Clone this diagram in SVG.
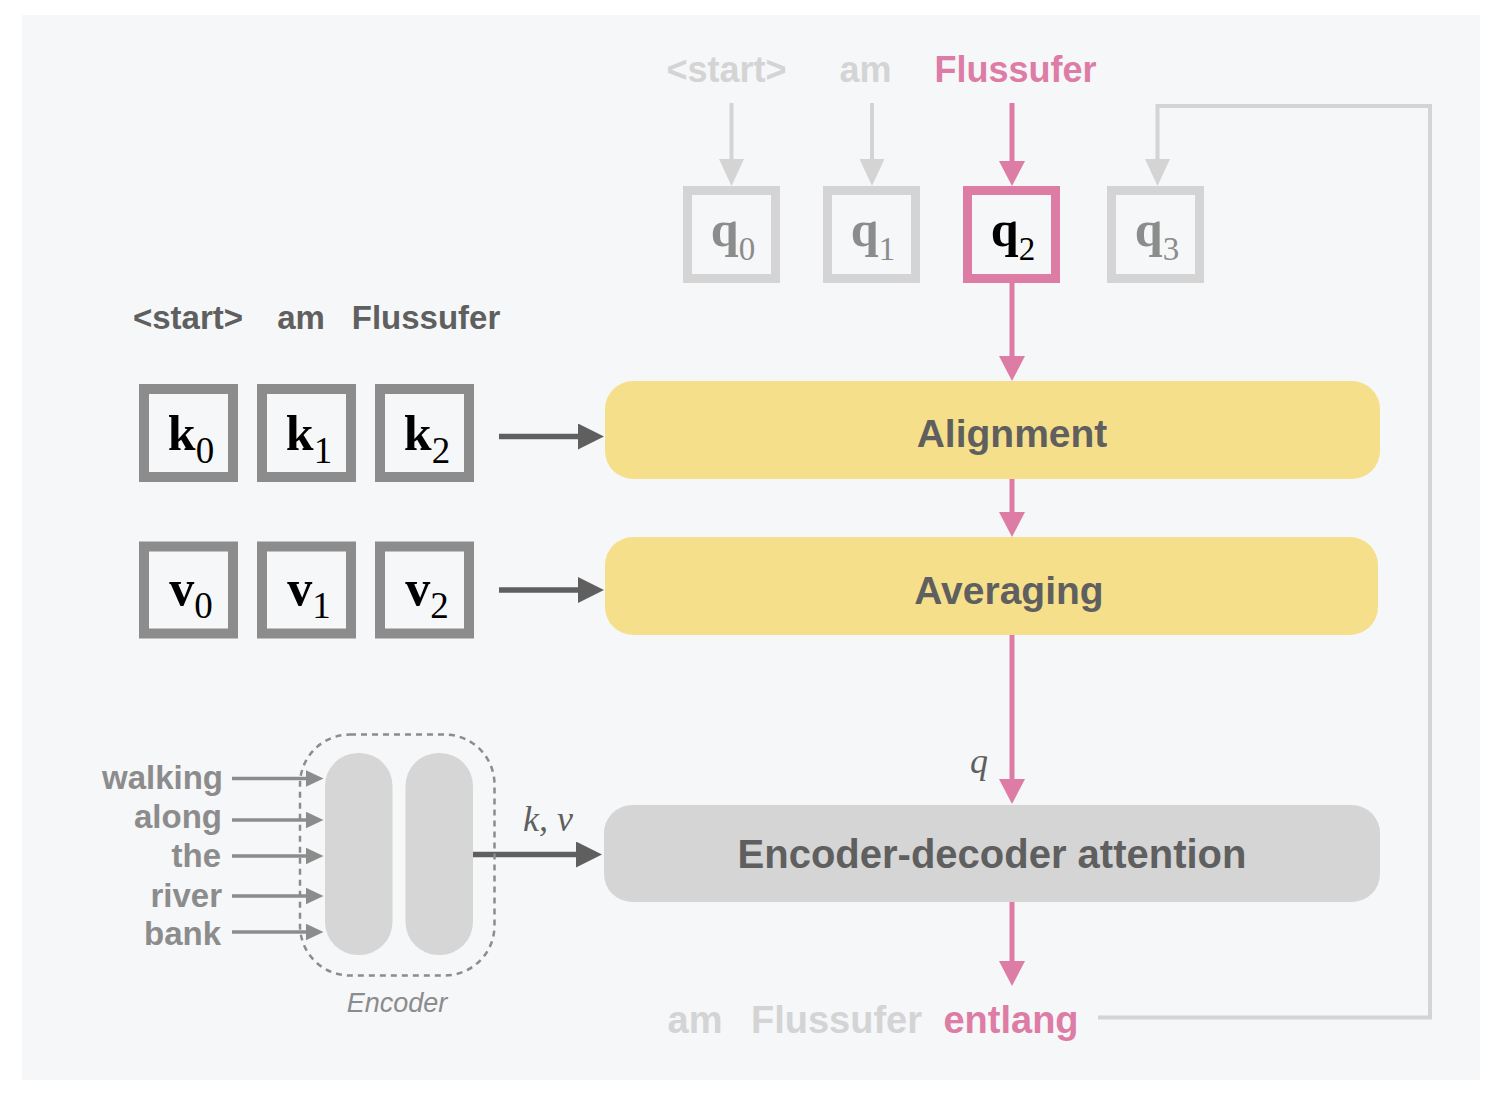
<svg xmlns="http://www.w3.org/2000/svg" width="1500" height="1100" viewBox="0 0 1500 1100">
<defs>
<style>
.sans{font-family:"Liberation Sans",Arial,sans-serif;font-weight:bold}
.serif{font-family:"Liberation Serif","Times New Roman",serif}
.big{font-size:39px;fill:#5f5f5f}
.lg{fill:#d4d4d4}
.pk{fill:#dd7ca5}
.word{font-size:33px;fill:#8c8c8c}
.sym{font-weight:bold;font-size:50px}
.sub{font-weight:normal}
.boxG{fill:none;stroke:#8c8c8c;stroke-width:10}
.boxL{fill:none;stroke:#d4d4d4;stroke-width:9}
.boxP{fill:none;stroke:#dd7ca5;stroke-width:9}
.pline{fill:none;stroke:#dd7ca5;stroke-width:5}
.lline{fill:none;stroke:#d4d4d4;stroke-width:4}
.dline{fill:none;stroke:#5f5f5f;stroke-width:5.5}
.sline{fill:none;stroke:#8c8c8c;stroke-width:3.5}
</style>
<marker id="hP" markerUnits="userSpaceOnUse" markerWidth="26" markerHeight="26" refX="2" refY="13" orient="auto"><path d="M0,0 L25,13 L0,26 Z" fill="#dd7ca5"/></marker>
<marker id="hL" markerUnits="userSpaceOnUse" markerWidth="28" markerHeight="26" refX="2" refY="12.5" orient="auto"><path d="M0,0 L27,12.5 L0,25 Z" fill="#d4d4d4"/></marker>
<marker id="hD" markerUnits="userSpaceOnUse" markerWidth="27" markerHeight="26" refX="2" refY="13" orient="auto"><path d="M0,0 L26,13 L0,26 Z" fill="#5f5f5f"/></marker>
<marker id="hS" markerUnits="userSpaceOnUse" markerWidth="19" markerHeight="18" refX="2" refY="8.5" orient="auto"><path d="M0,0 L18,8.5 L0,17 Z" fill="#8c8c8c"/></marker>
</defs>
<rect x="0" y="0" width="1500" height="1100" fill="#ffffff"/>
<rect x="22" y="15" width="1458" height="1065" fill="#f6f7f9"/>

<g id="connectors">
<line class="lline" x1="731.5" y1="103" x2="731.5" y2="161" marker-end="url(#hL)"/>
<line class="lline" x1="872" y1="103" x2="872" y2="161" marker-end="url(#hL)"/>
<line class="pline" x1="1012" y1="103" x2="1012" y2="163" marker-end="url(#hP)"/>
<path class="lline" d="M1098,1017.5 H1430 V106 H1157.5 V161" marker-end="url(#hL)"/>
<line class="pline" x1="1012" y1="283" x2="1012" y2="358" marker-end="url(#hP)"/>
<line class="pline" x1="1012" y1="479" x2="1012" y2="514" marker-end="url(#hP)"/>
<line class="pline" x1="1012" y1="635" x2="1012" y2="781" marker-end="url(#hP)"/>
<line class="pline" x1="1012" y1="902" x2="1012" y2="963" marker-end="url(#hP)"/>
<line class="dline" x1="499" y1="436.5" x2="580" y2="436.5" marker-end="url(#hD)"/>
<line class="dline" x1="499" y1="590" x2="580" y2="590" marker-end="url(#hD)"/>
<line class="dline" x1="473" y1="854.5" x2="578" y2="854.5" marker-end="url(#hD)"/>
<line class="sline" x1="232" y1="778.5" x2="307.5" y2="778.5" marker-end="url(#hS)"/>
<line class="sline" x1="232" y1="820" x2="307.5" y2="820" marker-end="url(#hS)"/>
<line class="sline" x1="232" y1="856" x2="307.5" y2="856" marker-end="url(#hS)"/>
<line class="sline" x1="232" y1="896" x2="307.5" y2="896" marker-end="url(#hS)"/>
<line class="sline" x1="232" y1="932" x2="307.5" y2="932" marker-end="url(#hS)"/>
<text class="serif" x="548" y="831" font-size="36" font-style="italic" fill="#5f5f5f" text-anchor="middle">k, v</text>
<text class="serif" x="979" y="773" font-size="36" font-style="italic" fill="#5f5f5f" text-anchor="middle">q</text>
</g>

<g id="top-words">
<text class="sans lg" x="726.5" y="82" font-size="36" text-anchor="middle">&lt;start&gt;</text>
<text class="sans lg" x="865.5" y="82" font-size="36" text-anchor="middle">am</text>
<text class="sans pk" x="1015.5" y="82" font-size="36" text-anchor="middle">Flussufer</text>
</g>

<g id="q0"><rect class="boxL" x="687.5" y="190.5" width="88" height="88"/><text class="serif" x="733" y="246" text-anchor="middle" fill="#8c8c8c"><tspan class="sym">q</tspan><tspan class="sub" font-size="33" dy="14">0</tspan></text></g>
<g id="q1"><rect class="boxL" x="827.5" y="190.5" width="88" height="88"/><text class="serif" x="873" y="246" text-anchor="middle" fill="#8c8c8c"><tspan class="sym">q</tspan><tspan class="sub" font-size="33" dy="14">1</tspan></text></g>
<g id="q2"><rect class="boxP" x="967.5" y="190.5" width="88" height="88"/><text class="serif" x="1013" y="246" text-anchor="middle" fill="#000000"><tspan class="sym">q</tspan><tspan class="sub" font-size="33" dy="14">2</tspan></text></g>
<g id="q3"><rect class="boxL" x="1111.5" y="190.5" width="88" height="88"/><text class="serif" x="1157" y="246" text-anchor="middle" fill="#8c8c8c"><tspan class="sym">q</tspan><tspan class="sub" font-size="33" dy="14">3</tspan></text></g>

<g id="left-words">
<text class="sans" x="188" y="329" font-size="33" fill="#5f5f5f" text-anchor="middle">&lt;start&gt;</text>
<text class="sans" x="301" y="329" font-size="33" fill="#5f5f5f" text-anchor="middle">am</text>
<text class="sans" x="426" y="329" font-size="33" fill="#5f5f5f" text-anchor="middle">Flussufer</text>
</g>

<g id="k0"><rect class="boxG" x="144" y="389" width="89" height="88"/><text class="serif" x="191" y="450" text-anchor="middle" fill="#000"><tspan class="sym">k</tspan><tspan class="sub" font-size="37" dy="13">0</tspan></text></g>
<g id="k1"><rect class="boxG" x="262" y="389" width="89" height="88"/><text class="serif" x="309" y="450" text-anchor="middle" fill="#000"><tspan class="sym">k</tspan><tspan class="sub" font-size="37" dy="13">1</tspan></text></g>
<g id="k2"><rect class="boxG" x="380" y="389" width="89" height="88"/><text class="serif" x="427" y="450" text-anchor="middle" fill="#000"><tspan class="sym">k</tspan><tspan class="sub" font-size="37" dy="13">2</tspan></text></g>
<g id="v0"><rect class="boxG" x="144" y="546.5" width="89" height="87"/><text class="serif" x="191" y="605" text-anchor="middle" fill="#000"><tspan class="sym">v</tspan><tspan class="sub" font-size="37" dy="13">0</tspan></text></g>
<g id="v1"><rect class="boxG" x="262" y="546.5" width="89" height="87"/><text class="serif" x="309" y="605" text-anchor="middle" fill="#000"><tspan class="sym">v</tspan><tspan class="sub" font-size="37" dy="13">1</tspan></text></g>
<g id="v2"><rect class="boxG" x="380" y="546.5" width="89" height="87"/><text class="serif" x="427" y="605" text-anchor="middle" fill="#000"><tspan class="sym">v</tspan><tspan class="sub" font-size="37" dy="13">2</tspan></text></g>

<g id="alignment"><rect x="605" y="381" width="775" height="98" rx="28" fill="#f6df8a"/><text class="sans big" x="1012" y="447" text-anchor="middle">Alignment</text></g>
<g id="averaging"><rect x="605" y="537" width="773" height="98" rx="28" fill="#f6df8a"/><text class="sans big" x="1009" y="604" text-anchor="middle">Averaging</text></g>
<g id="encdec"><rect x="604" y="805" width="776" height="97" rx="28" fill="#d5d5d5"/><text class="sans" x="992" y="868" font-size="40" fill="#5f5f5f" text-anchor="middle">Encoder-decoder attention</text></g>

<g id="input-words">
<text class="sans word" x="223" y="789" text-anchor="end">walking</text>
<text class="sans word" x="222" y="828" text-anchor="end">along</text>
<text class="sans word" x="221" y="867" text-anchor="end">the</text>
<text class="sans word" x="222" y="907" text-anchor="end">river</text>
<text class="sans word" x="221" y="945" text-anchor="end">bank</text>
</g>

<g id="encoder">
<rect x="300" y="734.5" width="194.5" height="241" rx="50" fill="none" stroke="#8c8c8c" stroke-width="2.5" stroke-dasharray="6,5"/>
<rect x="325" y="753" width="67.5" height="202" rx="33" fill="#d6d6d6"/>
<rect x="405.5" y="753" width="67.5" height="202" rx="33" fill="#d6d6d6"/>
<text x="397" y="1012" font-family="Liberation Sans, Arial, sans-serif" font-size="27" font-style="italic" fill="#8c8c8c" text-anchor="middle">Encoder</text>
</g>

<g id="output-words">
<text class="sans lg" x="695" y="1033" font-size="38" text-anchor="middle">am</text>
<text class="sans lg" x="836.5" y="1033" font-size="38" text-anchor="middle">Flussufer</text>
<text class="sans pk" x="1011" y="1033" font-size="38" text-anchor="middle">entlang</text>
</g>
</svg>
